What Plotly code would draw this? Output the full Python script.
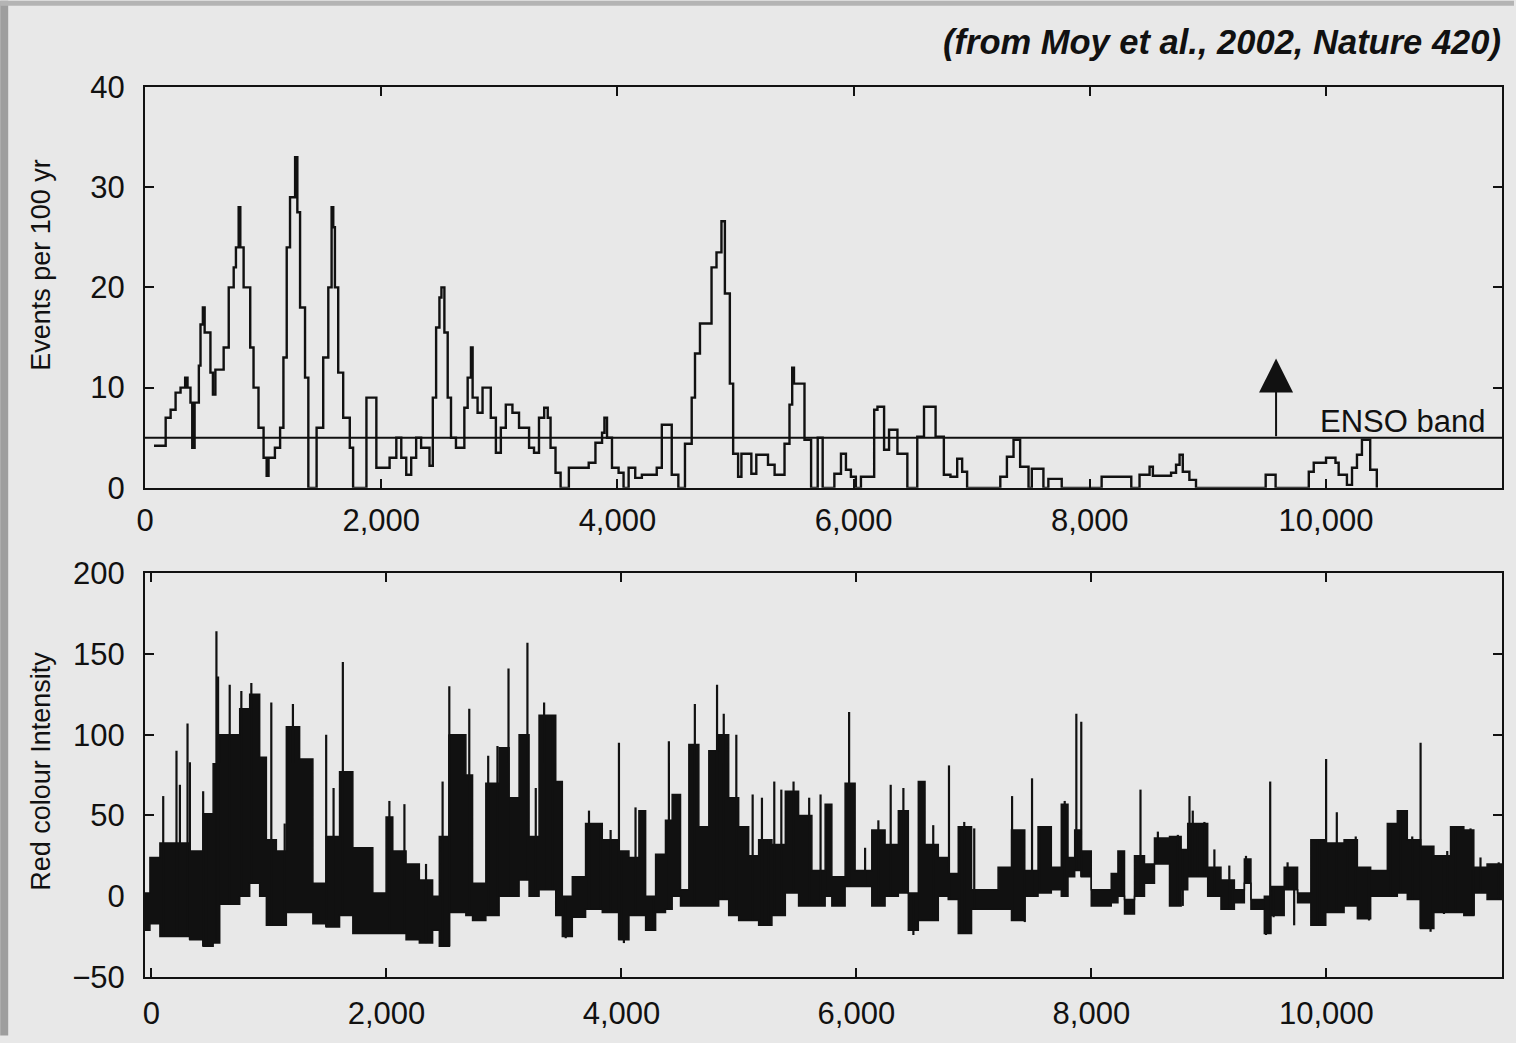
import bisect
import plotly.graph_objects as go

# ---------------- data: top panel (ENSO events per 100 yr, step series) ----------------
events_age = [76, 175, 217, 259, 301, 340, 360, 385, 400, 420,
              456, 470, 490, 505, 554, 575, 596, 666, 709, 751,
              770, 793, 807, 835, 891, 919, 961, 1004, 1030, 1046,
              1100, 1144, 1172, 1200, 1228, 1271, 1290, 1313, 1355, 1383,
              1453, 1509, 1552, 1580, 1594, 1608, 1636, 1678, 1734, 1762,
              1875, 1959, 2071, 2128, 2170, 2212, 2254, 2296, 2338, 2409,
              2437, 2465, 2493, 2510, 2535, 2563, 2591, 2633, 2704, 2732,
              2760, 2774, 2816, 2858, 2928, 2971, 3013, 3055, 3111, 3167,
              3252, 3294, 3336, 3380, 3410, 3434, 3476, 3519, 3589, 3757,
              3814, 3870, 3890, 3912, 3954, 4010, 4052, 4095, 4151, 4207,
              4333, 4376, 4460, 4516, 4572, 4629, 4657, 4699, 4797, 4839,
              4881, 4910, 4952, 4980, 5022, 5050, 5134, 5176, 5275, 5331,
              5415, 5457, 5480, 5495, 5584, 5640, 5696, 5738, 5837, 5893,
              5935, 5977, 6019, 6062, 6174, 6202, 6258, 6300, 6371, 6455,
              6539, 6596, 6694, 6764, 6820, 6877, 6919, 6961, 7242, 7298,
              7354, 7410, 7481, 7509, 7607, 7649, 7762, 8100, 8351, 8421,
              8506, 8534, 8688, 8730, 8760, 8787, 8843, 8899, 9489, 9573,
              9854, 9896, 10000, 10080, 10107, 10177, 10220, 10262, 10304, 10374,
              10430]
events_val = [4.2, 7, 7.8, 9.5, 10, 11, 10, 8.5, 4, 8.5,
              12.2, 16.3, 18, 15.5, 11.5, 9.3, 11.8, 14, 20, 22,
              24, 28, 24, 20, 14, 10, 6, 3, 1.2, 3,
              4, 6, 13, 24, 29, 33, 27.5, 18, 11, 0,
              6, 13, 20, 28, 26, 20, 11.5, 7, 4, 0,
              9, 2, 3, 5, 3, 1.3, 3, 5, 4, 2.2,
              9, 16, 19, 20, 15.5, 9, 5, 4, 8, 11,
              14, 9, 7.5, 10, 7, 3.5, 6, 8.3, 7.5, 6,
              4, 3.5, 7, 8, 7, 4, 1.5, 0, 2, 2.5,
              4.5, 5.5, 7, 5, 2, 1.5, 0, 2, 1, 1.3,
              2, 6.3, 1.3, 0, 4.4, 9, 13.4, 16.4, 22, 23.5,
              26.6, 19.4, 10.4, 3.4, 1.1, 3.4, 1.4, 3.3, 2.3, 1.3,
              4.4, 8.3, 12, 10.4, 4.8, 0, 5, 0, 1.4, 3.4,
              1.8, 1.1, 0, 1.1, 7.8, 8.1, 3.8, 5.8, 3.4, 0,
              5.1, 8.1, 5.1, 1.3, 1.1, 2.9, 1.6, 0, 1.1, 3.1,
              4.8, 2.1, 0, 1.9, 0, 0.9, 0, 1.1, 0, 1.3,
              2.1, 1.2, 1.5, 2.3, 3.3, 1.6, 0.8, 0, 1.3, 0,
              1.6, 2.5, 3, 2.5, 1.3, 0.3, 2, 3.3, 4.8, 1.8,
              0]
enso_band = 5
arrow_age = 9577
arrow_top = 12.9
enso_label_age = 11360
enso_label_val = 6.6

# ---------------- data: bottom panel (red colour intensity) ----------------
red_bin_start = [-98, -13, 72, 327, 440, 525, 581, 751, 836, 921,
                 978, 1063, 1148, 1261, 1374, 1487, 1601, 1714, 1884, 1997,
                 2054, 2167, 2280, 2393, 2450, 2535, 2676, 2733, 2846, 2959,
                 3044, 3129, 3214, 3299, 3441, 3497, 3582, 3695, 3837, 3979,
                 4064, 4149, 4206, 4291, 4375, 4432, 4503, 4574, 4659, 4744,
                 4828, 4913, 4998, 5083, 5168, 5281, 5395, 5508, 5621, 5734,
                 5791, 5904, 5989, 6131, 6244, 6357, 6442, 6527, 6584, 6697,
                 6782, 6867, 6980, 7206, 7320, 7433, 7546, 7659, 7744, 7801,
                 7858, 7914, 7999, 8169, 8226, 8282, 8367, 8452, 8537, 8665,
                 8764, 8820, 8990, 9103, 9217, 9302, 9358, 9472, 9528, 9641,
                 9755, 9868, 9995, 10151, 10264, 10377, 10519, 10604, 10689, 10802,
                 10915, 11057, 11170, 11255, 11368]
red_bin_hi = [2, 24, 33, 28, 51, 82, 100, 116, 125, 86,
              35, 28, 105, 85, 8, 37, 77, 30, 2, 49,
              28, 20, 10, 0, 37, 100, 75, 8, 70, 92,
              61, 100, 37, 112, 71, 0, 12, 45, 35, 28,
              24, 53, 0, 26, 47, 63, 4, 94, 43, 90,
              100, 61, 43, 25, 35, 32, 65, 50, 16, 57,
              12, 70, 16, 41, 32, 53, 2, 71, 32, 24,
              14, 43, 4, 18, 41, 16, 43, 18, 57, 24,
              41, 28, 4, 14, 28, -2, 25, 20, 36, 37,
              29, 45, 18, 10, 4, 23, -2, 0, 6, 18,
              2, 35, 33, 35, 18, 16, 45, 53, 35, 31,
              25, 43, 41, 18, 20]
red_bin_lo = [-21, -17, -25, -27, -31, -29, -5, 0, 8, 0,
              -18, -18, -10, -10, -17, -19, -12, -23, -23, -23,
              -23, -27, -29, -21, -31, -10, -12, -15, -12, 0,
              0, 10, 0, 4, -12, -25, -13, -8, -10, -27,
              -12, -12, -21, -10, -8, 0, -6, -6, -6, -6,
              -2, -12, -15, -15, -18, -12, 2, -6, -6, 0,
              -6, 6, 6, -6, 0, 2, -21, -15, -15, 0,
              -2, -23, -8, -8, -15, 0, 2, 4, 0, 12,
              16, 12, -6, -4, 0, -11, 0, 8, 20, -6,
              4, 12, 0, -8, -4, 8, -8, -23, -12, 4,
              -4, -18, -10, -6, -14, 0, 0, 2, -2, -20,
              -10, -10, -12, 2, -2]
red_end_age = 11495

spike_age = [100, 213, 242, 307, 327, 440, 553, 567, 666, 765,
             850, 1020, 1134, 1204, 1487, 1550, 1629, 2025, 2153, 2337,
             2478, 2535, 2705, 2866, 2945, 3039, 3200, 3271, 3342, 3412,
             3724, 3823, 3908, 3979, 4120, 4404, 4625, 4814, 4871, 4978,
             5117, 5196, 5301, 5361, 5465, 5598, 5695, 5754, 5938, 6074,
             6187, 6292, 6400, 6541, 6654, 6788, 6918, 7003, 7325, 7495,
             7560, 7773, 7872, 7914, 8268, 8418, 8566, 8736, 8835, 8863,
             8905, 8962, 9047, 9174, 9316, 9522, 9670, 9924, 9998, 10089,
             10179, 10250, 10547, 10632, 10731, 10802, 11029, 11099, 11227, 11312,
             11467]
spike_top = [62, 90, 69, 107, 83, 65, 164, 136, 131, 127,
             132, 120, 45, 119, 100, 67, 145, 59, 57, 20,
             71, 130, 116, 87, 93, 141, 157, 67, 120, 112,
             53, 45, 41, 95, 55, 96, 119, 131, 113, 100,
             63, 61, 71, 66, 71, 61, 63, 57, 114, 30,
             47, 69, 67, 70, 44, 81, 46, 42, 62, 73,
             43, 59, 113, 108, 26, 66, 40, 38, 62, 53,
             45, 46, 29, 19, 25, 71, 21, 35, 85, 52,
             33, 37, 45, 53, 37, 95, 28, 43, 42, 24,
             21]
dip_age = [468, 2535, 3526, 4021, 4276, 5253, 6485, 6895, 7433, 8339,
           8778, 9203, 9486, 9551, 9726, 9939, 10363, 10887, 11001, 11255]
dip_bottom = [-31, -31, -26, -29, -21, -18, -24, -23, -16, -11,
              -6, -8, -24, -13, -18, -18, -15, -22, -11, -12]

# ---------------- axes labels ----------------
x_tick_vals = [0, 2000, 4000, 6000, 8000, 10000]
x_tick_text = ["0", "2,000", "4,000", "6,000", "8,000", "10,000"]
top_y_ticks = [0, 10, 20, 30, 40]
top_y_text = ["0", "10", "20", "30", "40"]
bottom_y_ticks = [-50, 0, 50, 100, 150, 200]
bottom_y_text = ["\u221250", "0", "50", "100", "150", "200"]

title_text = "(from Moy et al., 2002, Nature 420)"
top_ylabel = "Events per 100 yr"
bottom_ylabel = "Red colour Intensity"

# ---------------- figure ----------------
FONT = "Liberation Sans, Arial, sans-serif"
INK = "#111111"
W, H = 1516, 1043
ML, MR, MT, MB = 145, 12, 87, 59
PW, PH = W - ML - MR, H - MT - MB


def px_to_paper_x(px):
    return (px - ML) / PW


def px_to_paper_y(py):
    return (H - MB - py) / PH


fig = go.Figure()

# top panel step trace
fig.add_trace(go.Scatter(x=events_age, y=events_val, mode="lines",
                         line=dict(shape="hv", color=INK, width=2.4),
                         xaxis="x", yaxis="y", hoverinfo="skip"))

# bottom panel: dense core band
core_x = red_bin_start + [red_end_age]
core_hi = red_bin_hi + [red_bin_hi[-1]]
core_lo = red_bin_lo + [red_bin_lo[-1]]
fig.add_trace(go.Scatter(x=core_x, y=core_lo, mode="lines",
                         line=dict(shape="hv", color=INK, width=1.5),
                         xaxis="x2", yaxis="y2", hoverinfo="skip"))
fig.add_trace(go.Scatter(x=core_x, y=core_hi, mode="lines",
                         line=dict(shape="hv", color=INK, width=1.5),
                         fill="tonexty", fillcolor=INK,
                         xaxis="x2", yaxis="y2", hoverinfo="skip"))


def bin_index(a):
    i = bisect.bisect_right(red_bin_start, a) - 1
    return max(0, min(i, len(red_bin_start) - 1))


sx, sy = [], []
for a, t in zip(spike_age, spike_top):
    i = bin_index(a)
    sx += [a, a, None]
    sy += [red_bin_lo[i], t, None]
for a, b in zip(dip_age, dip_bottom):
    i = bin_index(a)
    sx += [a, a, None]
    sy += [red_bin_hi[i], b, None]
fig.add_trace(go.Scatter(x=sx, y=sy, mode="lines",
                         line=dict(color=INK, width=2.2),
                         xaxis="x2", yaxis="y2", hoverinfo="skip"))

axis_common = dict(showline=True, linecolor=INK, linewidth=2, mirror="ticks",
                   ticks="inside", ticklen=9, tickwidth=2, tickcolor=INK,
                   showgrid=False, zeroline=False,
                   tickfont=dict(family=FONT, size=31, color=INK))

top_bottom_px = 491
bot_top_px = 577

fig.update_layout(
    width=W, height=H,
    margin=dict(l=ML, r=MR, t=MT, b=MB),
    paper_bgcolor="#e8e8e8", plot_bgcolor="#e8e8e8",
    showlegend=False,
    xaxis=dict(domain=[0, 1], anchor="y", range=[0, 11490],
               tickvals=x_tick_vals, ticktext=x_tick_text,
               ticklabelstandoff=4, **axis_common),
    yaxis=dict(domain=[px_to_paper_y(top_bottom_px), 1], anchor="x", range=[0, 40],
               tickvals=top_y_ticks, ticktext=top_y_text,
               ticklabelstandoff=12, **axis_common),
    xaxis2=dict(domain=[0, 1], anchor="y2", range=[-55, 11495],
                tickvals=x_tick_vals, ticktext=x_tick_text,
                ticklabelstandoff=8, **axis_common),
    yaxis2=dict(domain=[0, px_to_paper_y(bot_top_px)], anchor="x2", range=[-50, 200],
                tickvals=bottom_y_ticks, ticktext=bottom_y_text,
                ticklabelstandoff=12, **axis_common),
)

# ENSO band line
fig.add_shape(type="line", xref="x domain", yref="y", x0=0, x1=1,
              y0=enso_band, y1=enso_band, line=dict(color=INK, width=2))

# grey scan borders
fig.add_shape(type="rect", xref="paper", yref="paper",
              x0=px_to_paper_x(0), x1=px_to_paper_x(8),
              y0=px_to_paper_y(H), y1=px_to_paper_y(0),
              fillcolor="#9e9e9e", line=dict(width=0), layer="below")
fig.add_shape(type="rect", xref="paper", yref="paper",
              x0=px_to_paper_x(0), x1=px_to_paper_x(W),
              y0=px_to_paper_y(5), y1=px_to_paper_y(0),
              fillcolor="#b4b4b4", line=dict(width=0), layer="below")

fig.add_annotation(x=arrow_age, y=arrow_top, xref="x", yref="y",
                   ax=arrow_age, ay=enso_band, axref="x", ayref="y",
                   text="", showarrow=True, arrowhead=2, arrowsize=3.4,
                   arrowwidth=2, arrowcolor=INK)
fig.add_annotation(x=enso_label_age, y=enso_label_val, xref="x", yref="y",
                   text="ENSO band", showarrow=False, xanchor="right", yanchor="middle",
                   font=dict(family=FONT, size=31, color=INK))
fig.add_annotation(x=px_to_paper_x(1505), y=px_to_paper_y(42), xref="paper", yref="paper",
                   text="<b><i>" + title_text + "</i></b>", showarrow=False,
                   xanchor="right", yanchor="middle",
                   font=dict(family=FONT, size=34.5, color=INK))
fig.add_annotation(x=px_to_paper_x(40), y=px_to_paper_y(266), xref="paper", yref="paper",
                   text=top_ylabel, textangle=-90, showarrow=False,
                   xanchor="center", yanchor="middle",
                   font=dict(family=FONT, size=27, color=INK))
fig.add_annotation(x=px_to_paper_x(40), y=px_to_paper_y(777), xref="paper", yref="paper",
                   text=bottom_ylabel, textangle=-90, showarrow=False,
                   xanchor="center", yanchor="middle",
                   font=dict(family=FONT, size=27, color=INK))

fig.write_html("out.html")
